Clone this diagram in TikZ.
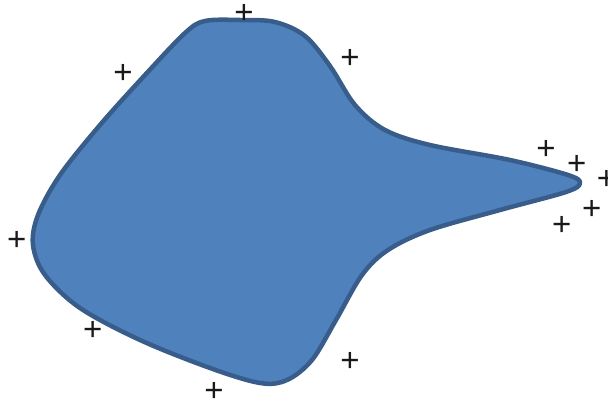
\documentclass[tikz,border=0pt]{standalone}
\usepackage{fontspec}
\setmainfont{Liberation Sans}
\definecolor{shapefill}{HTML}{4F81BD}
\definecolor{shapeline}{HTML}{385D8A}
\newcommand{\plusglyph}{\smash{\raisebox{-0.35em}{+}}}
\begin{document}
\begin{tikzpicture}[x=1pt,y=-1pt,
  blob/.style={fill=shapefill,draw=shapeline,line width=4.5pt,line join=round},
  plusmark/.style={font=\fontsize{33}{33}\selectfont,inner sep=0pt,text=black!90}]
\useasboundingbox (0,0) rectangle (608,404);
\draw[blob] plot[smooth cycle,tension=0.55] coordinates {
 (205,21) (240,20) (275,22) (305,36) (330,66) (355,105) (385,130) (430,145)
 (510,160) (568,175) (580,183) (566,192) (500,210) (430,230) (388,250)
 (362,275) (336,320) (312,360) (287,380) (260,383) (210,368) (140,340)
 (80,308) (45,275) (33,245) (38,215) (60,175) (100,125) (145,75) (185,33)};
\node[plusmark] (p1) at (244,12.3) {\plusglyph};
\node[plusmark] (p2) at (123,72) {\plusglyph};
\node[plusmark] (p3) at (350,57.3) {\plusglyph};
\node[plusmark] (p4) at (546,148.3) {\plusglyph};
\node[plusmark] (p5) at (576.7,162.7) {\plusglyph};
\node[plusmark] (p6) at (606.5,178) {\plusglyph};
\node[plusmark] (p7) at (591.7,208.3) {\plusglyph};
\node[plusmark] (p8) at (561.7,224) {\plusglyph};
\node[plusmark] (p9) at (16.7,239.3) {\plusglyph};
\node[plusmark] (p10) at (92.7,329.3) {\plusglyph};
\node[plusmark] (p11) at (350,360) {\plusglyph};
\node[plusmark] (p12) at (214,390) {\plusglyph};
\end{tikzpicture}
\end{document}
